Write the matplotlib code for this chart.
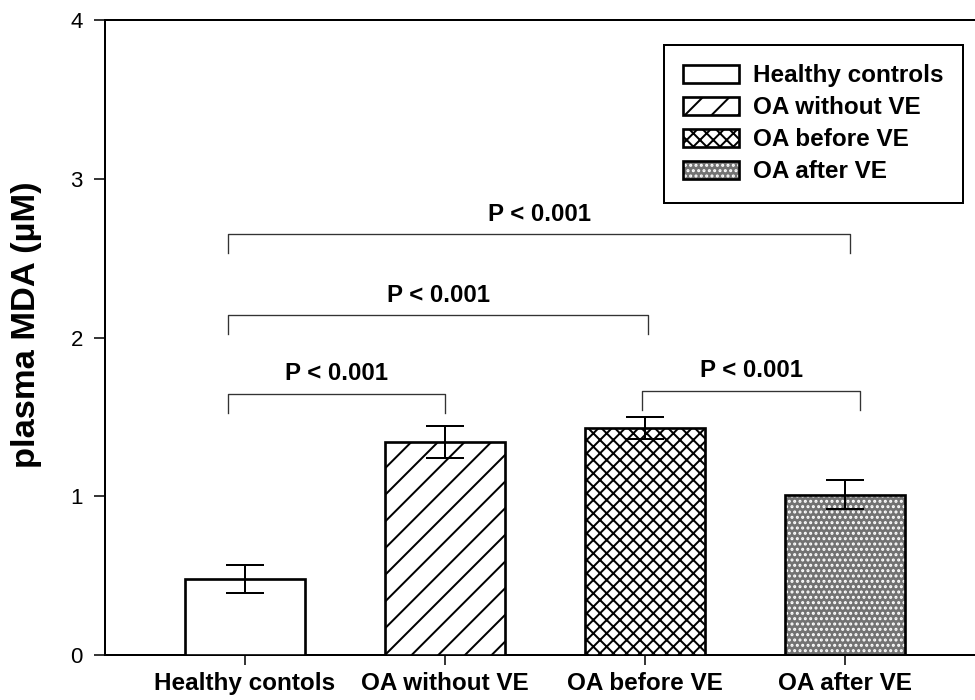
import matplotlib
matplotlib.use("Agg")
import matplotlib.pyplot as plt
from matplotlib.patches import Patch
from matplotlib.legend_handler import HandlerTuple

# ---- data -------------------------------------------------------------
groups = ["Healthy contols", "OA without VE", "OA before VE", "OA after VE"]
legend_labels = ["Healthy controls", "OA without VE", "OA before VE", "OA after VE"]
mda_mean = [0.48, 1.34, 1.43, 1.01]
mda_sem = [0.09, 0.10, 0.07, 0.09]

# pairwise comparisons drawn as brackets
comp_a = [0, 0, 0, 2]
comp_b = [1, 2, 3, 3]
comp_level = [1.645, 2.14, 2.65, 1.665]
comp_label = ["P < 0.001", "P < 0.001", "P < 0.001", "P < 0.001"]

y_ticks = [0, 1, 2, 3, 4]

# ---- style ------------------------------------------------------------
plt.rcParams["font.family"] = ["Liberation Sans", "DejaVu Sans"]
plt.rcParams["hatch.linewidth"] = 0.9

DPI = 160
fig = plt.figure(figsize=(975 / DPI, 700 / DPI), dpi=DPI)
ax = fig.add_axes([105 / 975, 1 - 655 / 700, 870 / 975, 635 / 700])

bar_w = 0.6
edge_lw = 1.2
x = list(range(len(groups)))

bar_styles = [
    dict(facecolor="white", hatch=""),
    dict(facecolor="white", hatch="//"),
    dict(facecolor="white", hatch="xxxx"),
    dict(facecolor="#727272", hatch="....."),
]

handles = []
for i, (xi, h, st) in enumerate(zip(x, mda_mean, bar_styles)):
    if i == 3:
        # grey stipple: white dots under a black outline
        ax.bar(xi, h, width=bar_w, facecolor=st["facecolor"], edgecolor="white",
               hatch=st["hatch"], linewidth=0, zorder=2)
        ax.bar(xi, h, width=bar_w, fill=False, edgecolor="black",
               linewidth=edge_lw, zorder=3)
        handles.append((
            Patch(facecolor=st["facecolor"], edgecolor="white", hatch=st["hatch"], linewidth=0),
            Patch(fill=False, edgecolor="black", linewidth=edge_lw),
        ))
    else:
        ax.bar(xi, h, width=bar_w, facecolor=st["facecolor"], edgecolor="black",
               hatch=st["hatch"], linewidth=edge_lw, zorder=3)
        handles.append(Patch(facecolor=st["facecolor"], edgecolor="black",
                             hatch=st["hatch"], linewidth=edge_lw))

ax.errorbar(x, mda_mean, yerr=mda_sem, fmt="none", ecolor="black",
            elinewidth=0.9, capsize=8.7, capthick=0.9, zorder=4)

# significance brackets
left_shift = [-0.085, -0.085, -0.085, -0.015]
right_shift = [0.0, 0.015, 0.025, 0.075]
leg = 0.12
for a, b, lvl, txt, ls, rs in zip(comp_a, comp_b, comp_level, comp_label,
                                  left_shift, right_shift):
    x0, x1 = a + ls, b + rs
    ax.plot([x0, x0, x1, x1], [lvl - leg, lvl, lvl, lvl - leg],
            color="#333333", linewidth=0.6, zorder=5)
    ax.text((x0 + x1) / 2, lvl + 0.055, txt, ha="center", va="bottom",
            fontsize=10.8, fontweight="bold")

# axes
ax.set_xlim(-0.70, 3.65)
ax.set_ylim(0, 4)
ax.set_yticks(y_ticks)
ax.set_yticklabels([str(t) for t in y_ticks], fontsize=10)
ax.set_xticks(x)
ax.set_xticklabels(groups, fontsize=10.9, fontweight="bold")
ax.tick_params(axis="y", direction="out", length=5, width=0.7, pad=5)
ax.tick_params(axis="x", direction="out", length=4.5, width=0.7, pad=3)
for side in ("left", "top", "bottom"):
    ax.spines[side].set_linewidth(0.9)
ax.spines["right"].set_visible(False)

ax.set_ylabel("plasma MDA (µM)", fontsize=15.5, fontweight="bold")
ax.yaxis.set_label_coords((42 - 105) / 870, 0.52)

lg = ax.legend(handles, legend_labels, loc="upper right",
               bbox_to_anchor=((963 - 105) / 870, (655 - 45) / 635),
               borderaxespad=0, prop=dict(weight="bold", size=10.9),
               handlelength=2.3, handleheight=0.8, handletextpad=0.6,
               labelspacing=0.37, borderpad=0.8, fancybox=False,
               framealpha=1, edgecolor="black",
               handler_map={tuple: HandlerTuple(ndivide=1)})
lg.get_frame().set_linewidth(0.9)

fig.savefig("out.png", dpi=DPI)
